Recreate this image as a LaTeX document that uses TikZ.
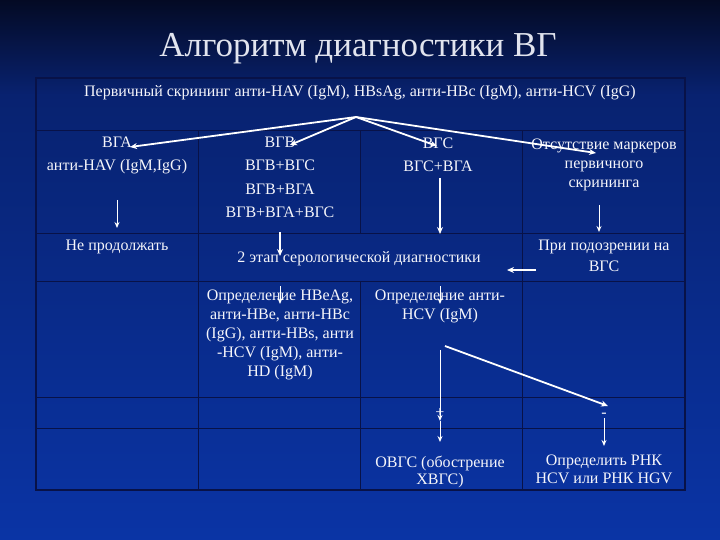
\documentclass[tikz,border=0pt]{standalone}
\usepackage{fontspec}
\setmainfont{Liberation Serif}
\usetikzlibrary{arrows.meta}
\definecolor{bgtop}{RGB}{4,10,36}
\definecolor{bgmid}{RGB}{8,34,112}
\definecolor{bgbot}{RGB}{10,52,165}
\definecolor{gridc}{RGB}{8,18,72}
\definecolor{txt}{RGB}{245,245,250}
\definecolor{ttl}{RGB}{225,228,238}
\begin{document}
\begin{tikzpicture}[x=1pt,y=-1pt,
  lbl/.style={text=txt,font=\fontsize{16}{19}\selectfont,inner sep=0pt,anchor=base},
  gridline/.style={draw=gridc,line width=1pt},
  arrthick/.style={draw=white,line width=1.8pt,-{Stealth[length=7pt,width=6pt]}},
  arrthin/.style={draw=white,line width=1pt,-{Stealth[length=6pt,width=5pt]}}]
\useasboundingbox (0,0) rectangle (720,540);
\shade[top color=bgtop,bottom color=bgmid] (0,0) rectangle (720,95);
\shade[top color=bgmid,bottom color=bgbot] (0,94.5) rectangle (720,540);
% title
\node[text=ttl,font=\fontsize{35}{40}\selectfont,inner sep=0pt,anchor=base] (title) at (358,57) {Алгоритм диагностики ВГ};
% grid
\draw[gridline,line width=1.3pt] (36,78) rectangle (685,490);
\foreach \yy in {131,233,281,397,428} \draw[gridline] (36,\yy) -- (685,\yy);
\draw[gridline] (198,131) -- (198,490);
\draw[gridline] (360,131) -- (360,233);
\draw[gridline] (360,281) -- (360,490);
\draw[gridline] (522,131) -- (522,490);
% texts
\node[lbl] (hdr) at (360,97) {Первичный скрининг анти-HAV (IgM), HBsAg, анти-HBc (IgM), анти-HCV (IgG)};
\node[lbl] (a1) at (117,148) {ВГА};
\node[lbl] (a2) at (117,171) {анти-HAV (IgM,IgG)};
\node[lbl] (b1) at (280,148) {ВГВ};
\node[lbl] (b2) at (280,171) {ВГВ+ВГС};
\node[lbl] (b3) at (280,195) {ВГВ+ВГА};
\node[lbl] (b4) at (280,218) {ВГВ+ВГА+ВГС};
\node[lbl] (c1) at (438,149) {ВГС};
\node[lbl] (c2) at (438,172) {ВГС+ВГА};
\node[lbl] (d1) at (604,150) {Отсутствие маркеров};
\node[lbl] (d2) at (604,169) {первичного};
\node[lbl] (d3) at (604,188) {скрининга};
\node[lbl] (e1) at (117,251) {Не продолжать};
\node[lbl] (e2) at (359,262) {2 этап серологической диагностики};
\node[lbl] (e3) at (604,251) {При подозрении на};
\node[lbl] (e4) at (604,271) {ВГС};
\node[lbl] (f1) at (280,300) {Определение HBeAg,};
\node[lbl] (f2) at (280,319) {анти-HBe, анти-HBc};
\node[lbl] (f3) at (280,338) {(IgG), анти-HBs, анти};
\node[lbl] (f4) at (280,357) {-HCV (IgM), анти-};
\node[lbl] (f5) at (280,376) {HD (IgM)};
\node[lbl] (g1) at (440,300) {Определение анти-};
\node[lbl] (g2) at (440,319) {HCV (IgM)};
\node[lbl] (plus) at (440,417) {+};
\node[lbl] (minus) at (604,417) {-};
\node[lbl] (h1) at (440,467) {ОВГС (обострение};
\node[lbl] (h2) at (440,484) {ХВГС)};
\node[lbl] (k1) at (604,465) {Определить РНК};
\node[lbl] (k2) at (604,483) {HCV или РНК HGV};
% coordinates
\coordinate (apex) at (356,117);
\coordinate (tA) at (130,147);
\coordinate (tB) at (290,145);
\coordinate (tC) at (437,146);
\coordinate (tD) at (596,153);
\coordinate (s1) at (117,200); \coordinate (e1t) at (117,228);
\coordinate (s2) at (280,232); \coordinate (e2t) at (280,256);
\coordinate (s3) at (440,178); \coordinate (e3t) at (440,234);
\coordinate (s4) at (599,205); \coordinate (e4t) at (599,232);
\coordinate (s5) at (536,270); \coordinate (e5t) at (507,270);
\coordinate (s6) at (280,286); \coordinate (e6t) at (280,304);
\coordinate (s7) at (440,286); \coordinate (e7t) at (440,304);
\coordinate (s8) at (440,350); \coordinate (e8t) at (440,421);
\coordinate (e9t) at (440,442);
\coordinate (s10) at (445,346); \coordinate (e10t) at (608,406);
\coordinate (s11) at (604,418); \coordinate (e11t) at (604,446);
% arrows
\draw[arrthick] (apex) -- (tA);
\draw[arrthick] (apex) -- (tB);
\draw[arrthick] (apex) -- (tC);
\draw[arrthick] (apex) -- (tD);
\draw[arrthin] (s1) -- (e1t);
\draw[arrthick] (s2) -- (e2t);
\draw[arrthick] (s3) -- (e3t);
\draw[arrthin] (s4) -- (e4t);
\draw[arrthick] (s5) -- (e5t);
\draw[arrthin] (s6) -- (e6t);
\draw[arrthin] (s7) -- (e7t);
\draw[arrthin] (s8) -- (e8t);
\draw[arrthin] (e8t) -- (e9t);
\draw[arrthick] (s10) -- (e10t);
\draw[arrthin] (s11) -- (e11t);
\end{tikzpicture}
\end{document}
